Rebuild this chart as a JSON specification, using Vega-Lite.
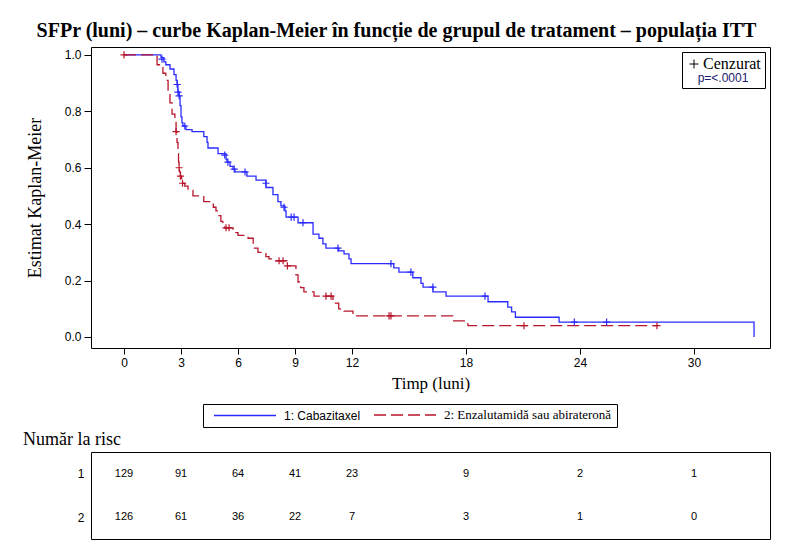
{
  "$schema": "https://vega.github.io/schema/vega-lite/v6.json",
  "padding": {"left": 22, "top": 20, "right": 5, "bottom": 5},
  "background": "white",
  "title": {"text": "SFPr (luni) – curbe Kaplan-Meier în funcție de grupul de tratament – populația ITT", "font": "Liberation Serif", "fontSize": 20, "fontWeight": "bold", "anchor": "middle", "color": "black", "offset": 6},
  "datasets": {
    "km": [
      {"g": "1: Cabazitaxel", "t": 0, "s": 1.0}, {"g": "1: Cabazitaxel", "t": 1.95, "s": 0.99}, {"g": "1: Cabazitaxel", "t": 2.1, "s": 0.975}, {"g": "1: Cabazitaxel", "t": 2.2, "s": 0.965}, {"g": "1: Cabazitaxel", "t": 2.42, "s": 0.95}, {"g": "1: Cabazitaxel", "t": 2.63, "s": 0.93}, {"g": "1: Cabazitaxel", "t": 2.74, "s": 0.91}, {"g": "1: Cabazitaxel", "t": 2.8, "s": 0.893}, {"g": "1: Cabazitaxel", "t": 2.84, "s": 0.87}, {"g": "1: Cabazitaxel", "t": 2.9, "s": 0.855}, {"g": "1: Cabazitaxel", "t": 2.95, "s": 0.82}, {"g": "1: Cabazitaxel", "t": 3.0, "s": 0.78}, {"g": "1: Cabazitaxel", "t": 3.05, "s": 0.76}, {"g": "1: Cabazitaxel", "t": 3.1, "s": 0.748}, {"g": "1: Cabazitaxel", "t": 3.26, "s": 0.735}, {"g": "1: Cabazitaxel", "t": 3.58, "s": 0.728}, {"g": "1: Cabazitaxel", "t": 4.2, "s": 0.71}, {"g": "1: Cabazitaxel", "t": 4.37, "s": 0.69}, {"g": "1: Cabazitaxel", "t": 4.42, "s": 0.67}, {"g": "1: Cabazitaxel", "t": 4.95, "s": 0.65}, {"g": "1: Cabazitaxel", "t": 5.37, "s": 0.63}, {"g": "1: Cabazitaxel", "t": 5.42, "s": 0.62}, {"g": "1: Cabazitaxel", "t": 5.58, "s": 0.605}, {"g": "1: Cabazitaxel", "t": 5.74, "s": 0.595}, {"g": "1: Cabazitaxel", "t": 5.84, "s": 0.585}, {"g": "1: Cabazitaxel", "t": 6.47, "s": 0.57}, {"g": "1: Cabazitaxel", "t": 6.95, "s": 0.556}, {"g": "1: Cabazitaxel", "t": 7.47, "s": 0.53}, {"g": "1: Cabazitaxel", "t": 7.84, "s": 0.505}, {"g": "1: Cabazitaxel", "t": 8.1, "s": 0.48}, {"g": "1: Cabazitaxel", "t": 8.26, "s": 0.465}, {"g": "1: Cabazitaxel", "t": 8.47, "s": 0.447}, {"g": "1: Cabazitaxel", "t": 8.53, "s": 0.425}, {"g": "1: Cabazitaxel", "t": 9.16, "s": 0.405}, {"g": "1: Cabazitaxel", "t": 9.95, "s": 0.365}, {"g": "1: Cabazitaxel", "t": 10.26, "s": 0.35}, {"g": "1: Cabazitaxel", "t": 10.47, "s": 0.33}, {"g": "1: Cabazitaxel", "t": 10.63, "s": 0.315}, {"g": "1: Cabazitaxel", "t": 11.3, "s": 0.305}, {"g": "1: Cabazitaxel", "t": 11.58, "s": 0.295}, {"g": "1: Cabazitaxel", "t": 11.84, "s": 0.277}, {"g": "1: Cabazitaxel", "t": 11.95, "s": 0.26}, {"g": "1: Cabazitaxel", "t": 14.2, "s": 0.245}, {"g": "1: Cabazitaxel", "t": 14.47, "s": 0.23}, {"g": "1: Cabazitaxel", "t": 15.2, "s": 0.21}, {"g": "1: Cabazitaxel", "t": 15.63, "s": 0.19}, {"g": "1: Cabazitaxel", "t": 15.74, "s": 0.177}, {"g": "1: Cabazitaxel", "t": 16.26, "s": 0.16}, {"g": "1: Cabazitaxel", "t": 16.95, "s": 0.145}, {"g": "1: Cabazitaxel", "t": 19.16, "s": 0.125}, {"g": "1: Cabazitaxel", "t": 20.2, "s": 0.106}, {"g": "1: Cabazitaxel", "t": 20.4, "s": 0.089}, {"g": "1: Cabazitaxel", "t": 20.6, "s": 0.07}, {"g": "1: Cabazitaxel", "t": 22.9, "s": 0.053}, {"g": "1: Cabazitaxel", "t": 33.16, "s": 0.0},
      {"g": "2: Enzalutamidă sau abirateronă", "t": 0, "s": 1.0}, {"g": "2: Enzalutamidă sau abirateronă", "t": 1.74, "s": 0.965}, {"g": "2: Enzalutamidă sau abirateronă", "t": 2.05, "s": 0.935}, {"g": "2: Enzalutamidă sau abirateronă", "t": 2.2, "s": 0.91}, {"g": "2: Enzalutamidă sau abirateronă", "t": 2.32, "s": 0.87}, {"g": "2: Enzalutamidă sau abirateronă", "t": 2.42, "s": 0.83}, {"g": "2: Enzalutamidă sau abirateronă", "t": 2.53, "s": 0.79}, {"g": "2: Enzalutamidă sau abirateronă", "t": 2.68, "s": 0.765}, {"g": "2: Enzalutamidă sau abirateronă", "t": 2.74, "s": 0.728}, {"g": "2: Enzalutamidă sau abirateronă", "t": 2.79, "s": 0.69}, {"g": "2: Enzalutamidă sau abirateronă", "t": 2.84, "s": 0.65}, {"g": "2: Enzalutamidă sau abirateronă", "t": 2.87, "s": 0.62}, {"g": "2: Enzalutamidă sau abirateronă", "t": 2.9, "s": 0.6}, {"g": "2: Enzalutamidă sau abirateronă", "t": 2.92, "s": 0.585}, {"g": "2: Enzalutamidă sau abirateronă", "t": 2.97, "s": 0.57}, {"g": "2: Enzalutamidă sau abirateronă", "t": 3.03, "s": 0.555}, {"g": "2: Enzalutamidă sau abirateronă", "t": 3.08, "s": 0.545}, {"g": "2: Enzalutamidă sau abirateronă", "t": 3.2, "s": 0.535}, {"g": "2: Enzalutamidă sau abirateronă", "t": 3.37, "s": 0.52}, {"g": "2: Enzalutamidă sau abirateronă", "t": 3.63, "s": 0.5}, {"g": "2: Enzalutamidă sau abirateronă", "t": 4.2, "s": 0.48}, {"g": "2: Enzalutamidă sau abirateronă", "t": 4.7, "s": 0.46}, {"g": "2: Enzalutamidă sau abirateronă", "t": 4.84, "s": 0.447}, {"g": "2: Enzalutamidă sau abirateronă", "t": 5.0, "s": 0.43}, {"g": "2: Enzalutamidă sau abirateronă", "t": 5.1, "s": 0.41}, {"g": "2: Enzalutamidă sau abirateronă", "t": 5.2, "s": 0.4}, {"g": "2: Enzalutamidă sau abirateronă", "t": 5.3, "s": 0.387}, {"g": "2: Enzalutamidă sau abirateronă", "t": 5.74, "s": 0.37}, {"g": "2: Enzalutamidă sau abirateronă", "t": 6.0, "s": 0.36}, {"g": "2: Enzalutamidă sau abirateronă", "t": 6.53, "s": 0.35}, {"g": "2: Enzalutamidă sau abirateronă", "t": 6.8, "s": 0.315}, {"g": "2: Enzalutamidă sau abirateronă", "t": 7.05, "s": 0.3}, {"g": "2: Enzalutamidă sau abirateronă", "t": 7.47, "s": 0.285}, {"g": "2: Enzalutamidă sau abirateronă", "t": 7.63, "s": 0.277}, {"g": "2: Enzalutamidă sau abirateronă", "t": 8.0, "s": 0.27}, {"g": "2: Enzalutamidă sau abirateronă", "t": 8.58, "s": 0.252}, {"g": "2: Enzalutamidă sau abirateronă", "t": 9.05, "s": 0.22}, {"g": "2: Enzalutamidă sau abirateronă", "t": 9.16, "s": 0.195}, {"g": "2: Enzalutamidă sau abirateronă", "t": 9.3, "s": 0.175}, {"g": "2: Enzalutamidă sau abirateronă", "t": 9.47, "s": 0.16}, {"g": "2: Enzalutamidă sau abirateronă", "t": 10.0, "s": 0.145}, {"g": "2: Enzalutamidă sau abirateronă", "t": 11.0, "s": 0.12}, {"g": "2: Enzalutamidă sau abirateronă", "t": 11.3, "s": 0.1}, {"g": "2: Enzalutamidă sau abirateronă", "t": 11.58, "s": 0.092}, {"g": "2: Enzalutamidă sau abirateronă", "t": 12.05, "s": 0.075}, {"g": "2: Enzalutamidă sau abirateronă", "t": 17.3, "s": 0.057}, {"g": "2: Enzalutamidă sau abirateronă", "t": 18.1, "s": 0.04}, {"g": "2: Enzalutamidă sau abirateronă", "t": 28.1, "s": 0.04}
    ],
    "cens": [
      {"g": "1: Cabazitaxel", "t": 2.0, "s": 0.985}, {"g": "1: Cabazitaxel", "t": 2.8, "s": 0.895}, {"g": "1: Cabazitaxel", "t": 2.84, "s": 0.868}, {"g": "1: Cabazitaxel", "t": 2.9, "s": 0.855}, {"g": "1: Cabazitaxel", "t": 3.2, "s": 0.748}, {"g": "1: Cabazitaxel", "t": 5.3, "s": 0.645}, {"g": "1: Cabazitaxel", "t": 5.47, "s": 0.62}, {"g": "1: Cabazitaxel", "t": 5.8, "s": 0.595}, {"g": "1: Cabazitaxel", "t": 6.37, "s": 0.585}, {"g": "1: Cabazitaxel", "t": 7.47, "s": 0.545}, {"g": "1: Cabazitaxel", "t": 8.42, "s": 0.46}, {"g": "1: Cabazitaxel", "t": 8.8, "s": 0.425}, {"g": "1: Cabazitaxel", "t": 8.95, "s": 0.425}, {"g": "1: Cabazitaxel", "t": 9.42, "s": 0.405}, {"g": "1: Cabazitaxel", "t": 11.26, "s": 0.315}, {"g": "1: Cabazitaxel", "t": 14.05, "s": 0.26}, {"g": "1: Cabazitaxel", "t": 15.1, "s": 0.23}, {"g": "1: Cabazitaxel", "t": 16.26, "s": 0.177}, {"g": "1: Cabazitaxel", "t": 19.0, "s": 0.145}, {"g": "1: Cabazitaxel", "t": 23.7, "s": 0.053}, {"g": "1: Cabazitaxel", "t": 25.4, "s": 0.053},
      {"g": "2: Enzalutamidă sau abirateronă", "t": 0, "s": 1.0}, {"g": "2: Enzalutamidă sau abirateronă", "t": 2.74, "s": 0.728}, {"g": "2: Enzalutamidă sau abirateronă", "t": 2.9, "s": 0.6}, {"g": "2: Enzalutamidă sau abirateronă", "t": 2.97, "s": 0.57}, {"g": "2: Enzalutamidă sau abirateronă", "t": 3.08, "s": 0.545}, {"g": "2: Enzalutamidă sau abirateronă", "t": 5.37, "s": 0.387}, {"g": "2: Enzalutamidă sau abirateronă", "t": 5.53, "s": 0.387}, {"g": "2: Enzalutamidă sau abirateronă", "t": 8.16, "s": 0.27}, {"g": "2: Enzalutamidă sau abirateronă", "t": 8.37, "s": 0.27}, {"g": "2: Enzalutamidă sau abirateronă", "t": 8.6, "s": 0.252}, {"g": "2: Enzalutamidă sau abirateronă", "t": 10.63, "s": 0.145}, {"g": "2: Enzalutamidă sau abirateronă", "t": 10.9, "s": 0.145}, {"g": "2: Enzalutamidă sau abirateronă", "t": 13.95, "s": 0.075}, {"g": "2: Enzalutamidă sau abirateronă", "t": 14.05, "s": 0.075}, {"g": "2: Enzalutamidă sau abirateronă", "t": 21.05, "s": 0.04}, {"g": "2: Enzalutamidă sau abirateronă", "t": 28.05, "s": 0.04}
    ],
    "risk": [
      {"row": "1", "t": 0, "n": 129}, {"row": "1", "t": 3, "n": 91}, {"row": "1", "t": 6, "n": 64}, {"row": "1", "t": 9, "n": 41}, {"row": "1", "t": 12, "n": 23}, {"row": "1", "t": 18, "n": 9}, {"row": "1", "t": 24, "n": 2}, {"row": "1", "t": 30, "n": 1},
      {"row": "2", "t": 0, "n": 126}, {"row": "2", "t": 3, "n": 61}, {"row": "2", "t": 6, "n": 36}, {"row": "2", "t": 9, "n": 22}, {"row": "2", "t": 12, "n": 7}, {"row": "2", "t": 18, "n": 3}, {"row": "2", "t": 24, "n": 1}, {"row": "2", "t": 30, "n": 0}
    ]
  },
  "vconcat": [
    {
      "width": 679,
      "height": 301,
      "layer": [
        {
          "data": {"name": "km"},
          "mark": {"type": "line", "interpolate": "step-after", "strokeWidth": 1.3},
          "encoding": {
            "x": {"field": "t", "type": "quantitative", "scale": {"domain": [-1.737, 34.0], "nice": false, "zero": false},
                  "axis": {"values": [0, 3, 6, 9, 12, 18, 24, 30], "title": "Timp (luni)", "titleFont": "Liberation Serif", "titleFontSize": 17, "titlePadding": 7, "labelFont": "Liberation Sans", "labelFontSize": 12, "tickSize": 6, "labelPadding": 3}},
            "y": {"field": "s", "type": "quantitative", "scale": {"domain": [-0.039, 1.028], "nice": false, "zero": false},
                  "axis": {"values": [0, 0.2, 0.4, 0.6, 0.8, 1.0], "format": ".1f", "title": "Estimat Kaplan-Meier", "titleFont": "Liberation Serif", "titleFontSize": 18, "titlePadding": 20, "labelFont": "Liberation Sans", "labelFontSize": 12, "tickSize": 7, "labelPadding": 3}},
            "color": {"field": "g", "type": "nominal", "scale": {"domain": ["1: Cabazitaxel", "2: Enzalutamidă sau abirateronă"], "range": ["#2b2bff", "#b8142c"]},
                      "legend": {"title": null, "orient": "none", "legendX": 112, "legendY": 357, "direction": "horizontal", "columns": 2, "strokeColor": "black", "padding": 5, "fillColor": "white",
                                 "symbolType": "M0,0H62", "symbolSize": 4, "symbolStrokeWidth": 1.3, "labelOffset": 64, "columnPadding": 7, "labelColor": "black", "labelLimit": 400,
                                 "labelFont": {"expr": "datum.value === '2: Enzalutamidă sau abirateronă' ? 'Liberation Serif' : 'Liberation Sans'"},
                                 "labelFontSize": {"expr": "datum.value === '2: Enzalutamidă sau abirateronă' ? 13 : 12"}}},
            "strokeDash": {"field": "g", "type": "nominal", "scale": {"domain": ["1: Cabazitaxel", "2: Enzalutamidă sau abirateronă"], "range": [[1, 0], [12, 5]]},
                           "legend": {"title": null, "orient": "none", "legendX": 112, "legendY": 357, "direction": "horizontal", "columns": 2, "strokeColor": "black", "padding": 5, "fillColor": "white",
                                 "symbolType": "M0,0H62", "symbolSize": 4, "symbolStrokeWidth": 1.3, "labelOffset": 64, "columnPadding": 7, "labelColor": "black", "labelLimit": 400,
                                 "labelFont": {"expr": "datum.value === '2: Enzalutamidă sau abirateronă' ? 'Liberation Serif' : 'Liberation Sans'"},
                                 "labelFontSize": {"expr": "datum.value === '2: Enzalutamidă sau abirateronă' ? 13 : 12"}}}
          }
        },
        {
          "data": {"name": "cens"},
          "mark": {"type": "point", "filled": false, "strokeWidth": 1.2, "size": 50, "opacity": 1},
          "encoding": {
            "x": {"field": "t", "type": "quantitative"},
            "y": {"field": "s", "type": "quantitative"},
            "color": {"field": "g", "type": "nominal"},
            "shape": {"datum": "Cenzurat", "type": "nominal", "scale": {"domain": ["Cenzurat"], "range": ["M-1,0H1M0,-1V1"]},
                      "legend": {"title": "p=<.0001", "titleOrient": "bottom", "titleAnchor": "middle", "titleFont": "Liberation Sans", "titleFontSize": 12, "titleFontWeight": "normal", "titleColor": "#1a1a70", "titlePadding": 1,
                                 "orient": "top-right", "offset": 5, "padding": 4, "strokeColor": "black", "fillColor": "white",
                                 "labelFont": "Liberation Serif", "labelFontSize": 16, "labelColor": "black", "labelOffset": 1,
                                 "symbolStrokeColor": "black", "symbolFillColor": "transparent", "symbolSize": 80, "symbolStrokeWidth": 1}}
          }
        }
      ]
    },
    {
      "width": 679,
      "height": 87,
      "data": {"name": "risk"},
      "title": {"text": "Număr la risc", "anchor": "start", "frame": "group", "dx": -68, "font": "Liberation Serif", "fontSize": 18, "fontWeight": "normal", "color": "black", "offset": 3},
      "mark": {"type": "text", "font": "Liberation Sans", "fontSize": 11, "color": "black"},
      "encoding": {
        "x": {"field": "t", "type": "quantitative", "scale": {"domain": [-1.737, 34.0], "nice": false, "zero": false}, "axis": null},
        "y": {"field": "row", "type": "nominal", "scale": {"type": "point", "padding": 0.51}, "axis": {"title": null, "ticks": false, "domain": false, "labelFont": "Liberation Sans", "labelFontSize": 12, "labelPadding": 7, "labelColor": "black"}},
        "text": {"field": "n", "type": "quantitative"}
      }
    }
  ],
  "spacing": 38,
  "config": {
    "view": {"stroke": "black", "strokeWidth": 1},
    "axis": {"grid": false, "domain": false, "tickColor": "black", "labelColor": "black", "titleColor": "black", "titleFontWeight": "normal"}
  }
}
